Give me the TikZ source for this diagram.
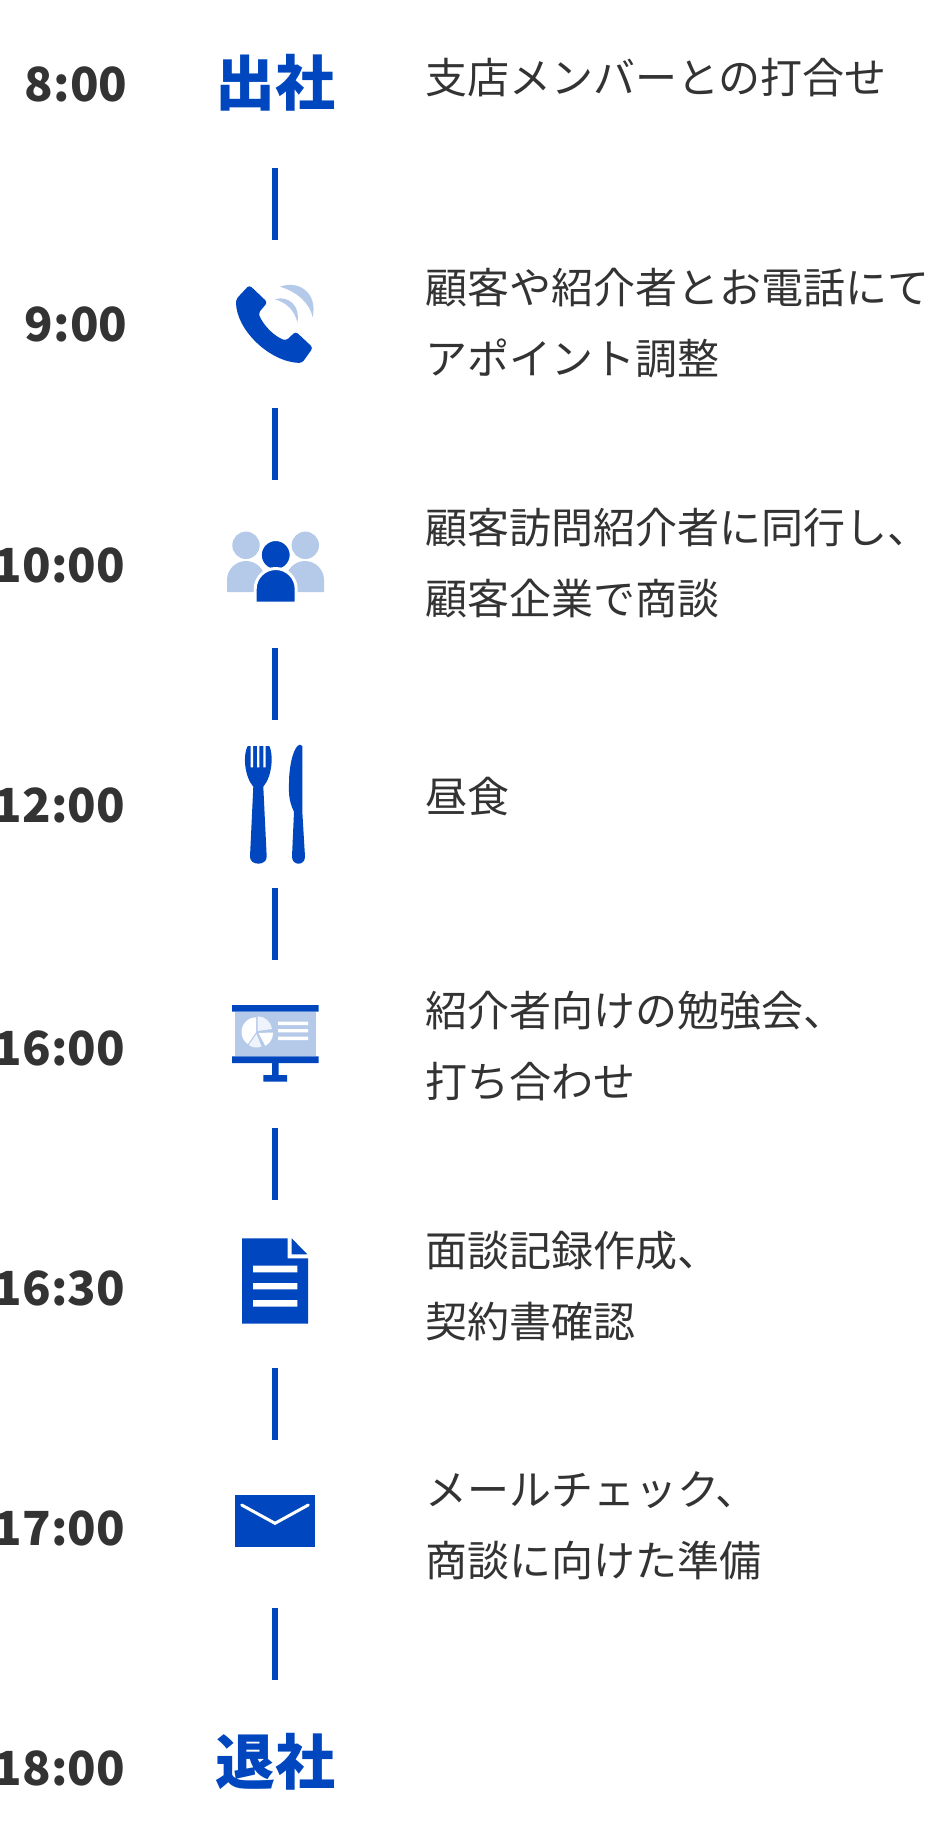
\documentclass[tikz,border=0pt]{standalone}
\usepackage{fontspec}
\usepackage{xcolor}
\setmainfont{Noto Sans CJK JP}
\usetikzlibrary{positioning,calc}
\definecolor{brand}{HTML}{0047BF}
\definecolor{brandlight}{HTML}{B5CAE9}
\definecolor{brandpale}{HTML}{EEF3FC}
\definecolor{ink}{HTML}{333333}
\tikzset{
    timelabel/.style={anchor=east, inner sep=0pt, text=ink, font=\bfseries\fontsize{47}{47}\selectfont},
    headlabel/.style={inner sep=0pt, text=brand, font=\bfseries\fontsize{60}{60}\selectfont},
    desclabel/.style={anchor=west, inner sep=0pt, align=left, text=ink, font=\fontsize{42}{71}\selectfont},
    barline/.style={brand, line width=6pt}
}

\begin{document}
\begin{tikzpicture}[x=1pt, y=-1pt]
    \useasboundingbox (0,0) rectangle (925,1848);
    \fill[white] (0,0) rectangle (925,1848);

    % times
    \foreach \rowx/\rowy/\clock [count=\i] in {127.5/84/8:00, 127.5/324/9:00, 125/565/10:00, 125/805/12:00, 125/1048/16:00, 125/1288/16:30, 125/1528/17:00, 125/1768/18:00}
        \node[timelabel] (time\i) at (\rowx,\rowy) {\clock};

    % bars
    \foreach \i in {1,...,7} {
        \coordinate (bartop\i) at (275,168+240*\i-240);
        \coordinate (barend\i) at (275,240+240*\i-240);
        \draw[barline] (bartop\i) -- (barend\i);
    }

    \node[headlabel] (start) at (275,83) {出社};
    \node[headlabel] (finish) at (275,1762) {退社};

    % texts
    \node[desclabel] (desc1) at (425,78) {支店メンバーとの打合せ};
    \node[desclabel] (desc2) at (425,323) {顧客や紹介者とお電話にて\\アポイント調整};
    \node[desclabel] (desc3) at (425,563) {顧客訪問紹介者に同行し、\\顧客企業で商談};
    \node[desclabel] (desc4) at (425,797) {昼食};
    \node[desclabel] (desc5) at (425,1046) {紹介者向けの勉強会、\\打ち合わせ};
    \node[desclabel] (desc6) at (425,1286) {面談記録作成、\\契約書確認};
    \node[desclabel] (desc7) at (425,1526) {メールチェック、\\商談に向けた準備};

    % phone
    \fill[brand, rounded corners=3pt] (249.3,285) -- (267.5,302.3) -- (258.3,313.3) .. controls (264,326) and (274,336) .. (286,340.7) -- (295.7,331.5) -- (313,347.7) -- (302,363) .. controls (270,362) and (236,330) .. (236,299.3) -- cycle;
    \fill[brandlight] (280,286.7) .. controls (298,280) and (318,292) .. (312.7,317.3) .. controls (310,304) and (298,292) .. cycle;
    \fill[brandlight] (275,299.3) .. controls (288,295) and (301,306) .. (297.3,322.3) .. controls (295,312) and (288,303) .. cycle;

    % people
    \fill[brandlight] (246,545.3) circle[radius=13.7];
    \fill[brandlight] (305.3,545.3) circle[radius=13.7];
    \fill[brandlight] (227,592) -- (227,580) arc[start angle=180, end angle=360, radius=19] -- (265,592) -- cycle;
    \fill[brandlight] (286,592) -- (286,580) arc[start angle=180, end angle=360, radius=19] -- (324,592) -- cycle;
    \filldraw[brand, draw=white, line width=3pt] (275.7,555) circle[radius=15.5];
    \filldraw[brand, draw=white, line width=3pt] (255.2,603) -- (255.2,589) arc[start angle=180, end angle=360, radius=20.5] -- (296.2,603) -- cycle;

    % fork and knife
    \fill[brand] (247.7,746) .. controls (243,754) and (244,776) .. (253.3,786.7) -- (250,856.7) .. controls (250,866) and (266.7,866) .. (266.7,856.7) -- (263.3,786.7) .. controls (272.5,776) and (273.5,754) .. (269.3,746) -- cycle;
    \fill[white] (250.7,745) rectangle (253,767.3) (257,745) rectangle (259.3,767.3) (263.3,745) rectangle (265.7,767.3);
    \fill[brand] (302.3,746) -- (302.3,811.7) -- (305,856.7) .. controls (305,866) and (292,866) .. (292,856.7) -- (294,811.7) .. controls (288,800) and (289,790) .. (289,783) .. controls (289,765) and (294,745) .. (300,744.7) -- cycle;

    % screen
    \fill[brandlight] (234.7,1011.7) rectangle (316,1056.3);
    \fill[brand] (232,1005) rectangle (318.7,1011.7) (232,1056.3) rectangle (318.7,1063) (272,1063) rectangle (278.7,1075) (263.3,1075) rectangle (287,1081.7);
    \fill[white] (256.2,1032) -- ++(-90:14.7) arc[start angle=-90, end angle=-235, radius=14.7] -- cycle;
    \fill[brandpale] (257.5,1031) -- ++(-90:14.7) arc[start angle=-90, end angle=-8, radius=14.7] -- cycle;
    \fill[white] (258.5,1033) -- ++(-2:14.5) arc[start angle=-2, end angle=62, radius=14.5] -- cycle;
    \fill[brandpale] (256.5,1034) -- ++(68:13.5) arc[start angle=68, end angle=125, radius=13.5] -- cycle;
    \fill[white] (278,1021.7) rectangle (308,1025) (278,1029) rectangle (308,1032.3) (278,1036.7) rectangle (308,1040);

    % document
    \fill[brand] (242,1238.3) -- (287.7,1238.3) -- (287.7,1258.3) -- (308,1258.3) -- (308,1323.7) -- (242,1323.7) -- cycle;
    \fill[brand] (291.7,1238.3) -- (307.3,1254.3) -- (291.7,1254.3) -- cycle;
    \fill[white] (253,1265.7) rectangle (297.3,1272.3) (253,1283) rectangle (297.3,1289.3) (253,1300) rectangle (297.3,1306.7);

    % mail
    \fill[brand] (235.3,1495) rectangle (314.7,1546.7);
    \draw[white, line width=3pt, line cap=round] (241.7,1505) -- (275,1523.3) -- (308.3,1505);
\end{tikzpicture}
\end{document}
